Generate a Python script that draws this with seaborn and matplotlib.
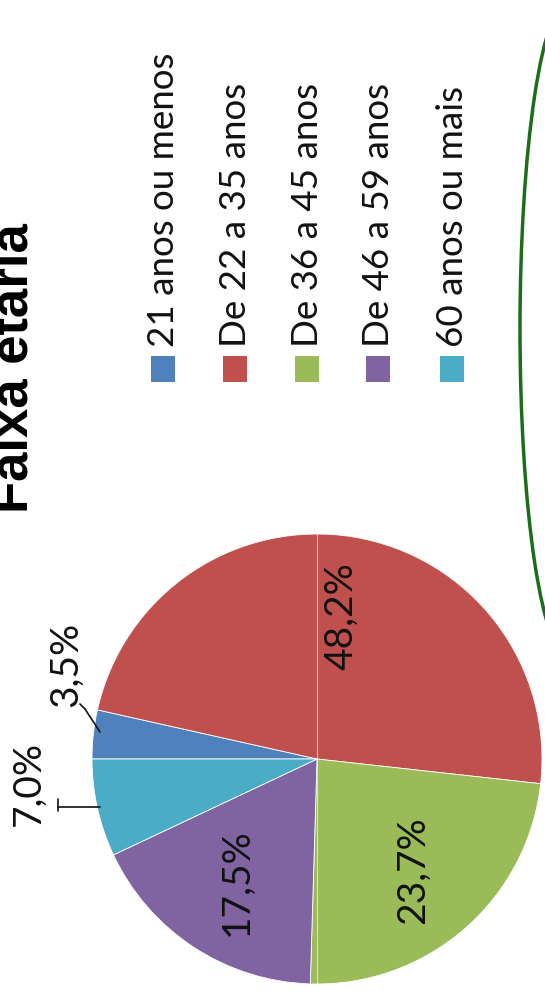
import seaborn as sns
import matplotlib.pyplot as plt
from matplotlib.patches import Rectangle, Ellipse

# ==========================================
# DATA
# ==========================================
faixas = ['21 anos ou menos', 'De 22 a 35 anos', 'De 36 a 45 anos',
          'De 46 a 59 anos', '60 anos ou mais']
percentuais = [3.5, 48.2, 23.7, 17.5, 7.0]
cores = sns.color_palette(['#4F81BD', '#C0504D', '#9BBB59', '#8064A2', '#4BACC6'])
titulo = 'Faixa etária'

# ==========================================
# STYLE
# ==========================================
sns.set_theme(style='white')
plt.rcParams['font.family'] = ['Lato', 'DejaVu Sans']
txt_color = '#111111'

W, H = 545, 995
fig = plt.figure(figsize=(W / 100, H / 100), dpi=100)
ax = fig.add_axes([0, 0, 1, 1])

# the whole chart is turned 90 degrees counter-clockwise
cx, cy, R = 317, H - 760, 225


def fmt(v):
    return f'{v:.1f}%'.replace('.', ',')


wedges, texts, autotexts = ax.pie(
    percentuais, colors=cores, startangle=180, counterclock=False,
    radius=R, center=(cx, cy), autopct=fmt, pctdistance=0.65,
    wedgeprops=dict(edgecolor='white', linewidth=0.6),
    textprops=dict(rotation=90, fontsize=28, color=txt_color),
)

# small slices: labels outside with leader lines
for t, v in zip(autotexts, percentuais):
    if v < 10:
        t.set_visible(False)

i_small = [i for i, v in enumerate(percentuais) if v < 10]
# 3,5%
ax.plot([100, 85, 80], [H - 733, H - 710, H - 705], color=txt_color, lw=1.2)
ax.text(66, H - 707, fmt(percentuais[i_small[0]]), rotation=90, rotation_mode='anchor',
        ha='left', va='center', fontsize=28, color=txt_color)
# 7,0%
ax.plot([100, 58], [H - 808, H - 808], color=txt_color, lw=1.2)
ax.plot([58, 58], [H - 800, H - 812], color=txt_color, lw=1.2)
ax.text(29, H - 826, fmt(percentuais[i_small[1]]), rotation=90, rotation_mode='anchor',
        ha='left', va='center', fontsize=28, color=txt_color)

# faint vertical line across the pie (scan artefact)
ax.plot([cx, cx], [cy - R, cy + R], color='white', lw=0.8, alpha=0.6)

# ==========================================
# LEGEND (rotated, drawn by hand)
# ==========================================
leg_x = [163, 235, 307, 378, 452]
for x, lab, c in zip(leg_x, faixas, cores):
    ax.add_patch(Rectangle((x - 12, H - 383), 24, 26, color=c, lw=0))
    ax.text(x, H - 347, lab, rotation=90, rotation_mode='anchor',
            ha='left', va='center', fontsize=26.5, color=txt_color)

# title, partly cut at the left edge as in the source
ax.text(27, H - 513, titulo, rotation=90, rotation_mode='anchor',
        ha='left', va='baseline', fontsize=38, fontweight='bold',
        family='Liberation Sans', color='black')

# green highlight ellipse on the right
ax.add_patch(Ellipse((570, H - 330), 100, 660, fill=False,
                     edgecolor='#1a6e1a', lw=2.5))

ax.set_xlim(0, W)
ax.set_ylim(0, H)
ax.set_aspect('equal')
ax.axis('off')

plt.savefig('out.png', dpi=100)
